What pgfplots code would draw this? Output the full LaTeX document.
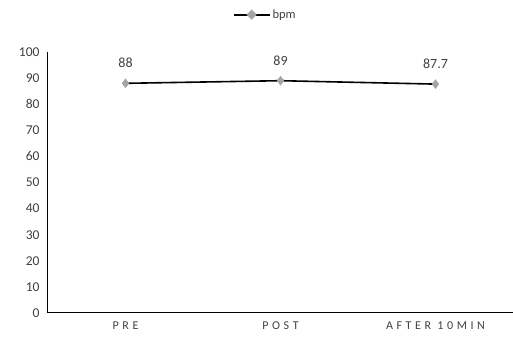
\documentclass[border=0pt]{standalone}
\usepackage{pgfplots}
\pgfplotsset{compat=1.18}
\usepackage{fontspec}
\setmainfont{Carlito}
\definecolor{txt}{HTML}{404040}
\definecolor{mk}{HTML}{A5A5A5}
\begin{document}
\begin{tikzpicture}
\useasboundingbox (-48pt,-31pt) rectangle (465pt,313pt);
\begin{axis}[
  scale only axis,
  width=465pt, height=261pt,
  xmin=-0.5, xmax=2.5,
  ymin=0, ymax=100,
  ytick={0,10,...,100},
  xtick={0,1,2},
  xticklabels={PRE,POST,AFTER 10MIN},
  axis x line=bottom, axis y line=left,
  axis line style={black, line width=1pt, -},
  major tick length=0pt,
  tick style={draw=none},
  ticklabel style={font=\fontsize{13.5}{14}\selectfont, text=txt},
  xticklabel style={font=\fontsize{12}{12}\selectfont\addfontfeature{LetterSpace=30}, yshift=-5pt},
  yticklabel style={xshift=-5pt},
  /pgf/number format/assume math mode=true,
  legend style={at={(0.467,1.115)}, anchor=south, draw=none, fill=none,
    font=\fontsize{12.5}{13}\selectfont, text=txt, inner sep=0pt,
    /tikz/every even column/.append style={column sep=2pt}},
  legend image code/.code={
    \draw[black, line width=2pt] (0pt,0pt)--(36pt,0pt);
    \fill[mk] (18pt,4pt)--(22pt,0pt)--(18pt,-4pt)--(14pt,0pt)--cycle;
  },
  nodes near coords,
  nodes near coords style={font=\fontsize{14}{15}\selectfont, text=txt, yshift=12pt},
  point meta=explicit symbolic,
  clip=false,
]
\addplot[black, line width=1.6pt, mark=diamond*, mark size=4.5pt,
  mark options={fill=mk, draw=mk, line width=0.4pt}]
  coordinates {(0,88)[88] (1,89)[89] (2,87.7)[87.7]};
\addlegendentry{bpm}
\end{axis}
\end{tikzpicture}
\end{document}
